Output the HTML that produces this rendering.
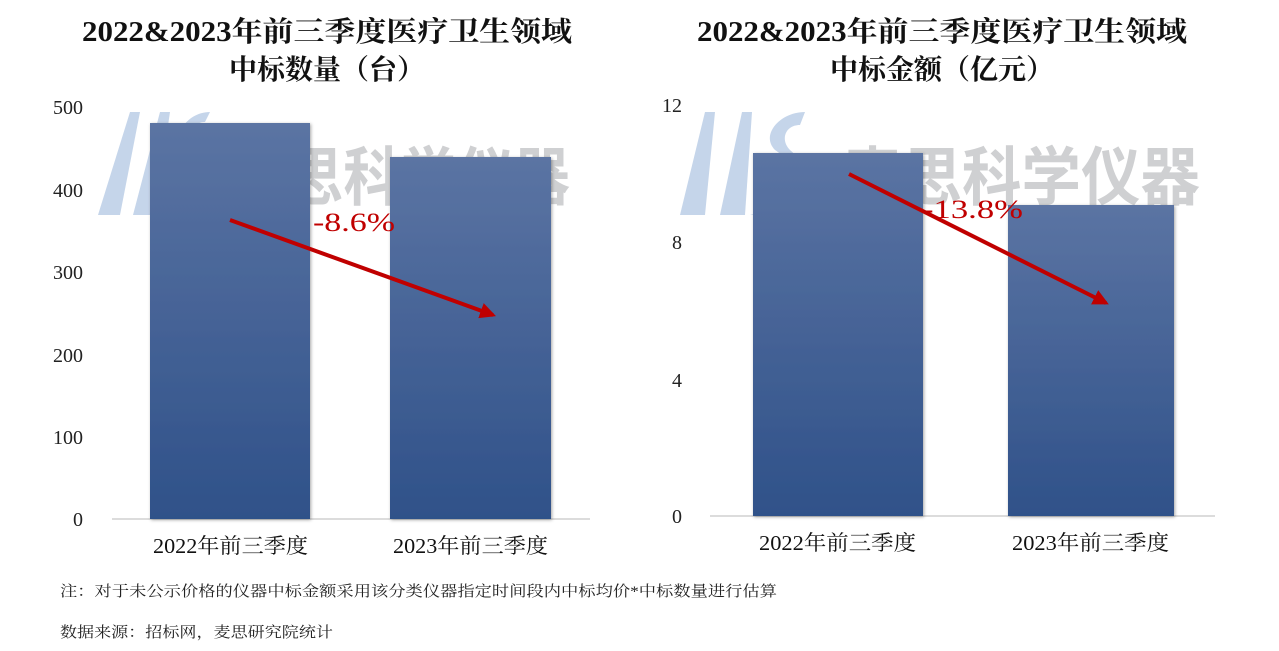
<!DOCTYPE html>
<html><head><meta charset="utf-8"><style>
html,body{margin:0;padding:0;background:#fff;width:1279px;height:651px;overflow:hidden}
svg text{font-family:"Liberation Serif","Noto Serif CJK SC",serif}
</style></head><body>
<svg width="1279" height="651" viewBox="0 0 1279 651" xmlns="http://www.w3.org/2000/svg">
<defs>
<linearGradient id="g" x1="0" y1="0" x2="0" y2="1"><stop offset="0" stop-color="#5b74a3"/><stop offset="1" stop-color="#2f5189"/></linearGradient>
<filter id="sh" x="-10%" y="-10%" width="120%" height="120%"><feDropShadow dx="1" dy="1" stdDeviation="1.5" flood-color="#000" flood-opacity="0.35"/></filter>
<marker id="ah" viewBox="0 0 10 10" refX="8" refY="5" markerWidth="4" markerHeight="4" orient="auto"><path d="M0,0 L10,5 L0,10 z" fill="#c00000"/></marker>
</defs>
<!-- titles -->
<text x="82" y="41" font-size="28" font-weight="bold" fill="#111" textLength="490" lengthAdjust="spacingAndGlyphs">2022&amp;2023年前三季度医疗卫生领域</text>
<text x="327" y="79" font-size="28" font-weight="bold" text-anchor="middle" fill="#111">中标数量（台）</text>
<text x="697" y="41" font-size="28" font-weight="bold" fill="#111" textLength="490" lengthAdjust="spacingAndGlyphs">2022&amp;2023年前三季度医疗卫生领域</text>
<text x="942" y="79" font-size="28" font-weight="bold" text-anchor="middle" fill="#111">中标金额（亿元）</text>
<!-- watermarks -->
<g fill="#c5d5ea">
<polygon points="98,215 120,215 140,112 130,112"/><polygon points="133,215 155,215 170,112 160,112"/>
<path d="M165,215 C200,215 200,170 180,155 C170,140 185,112 210,112 L205,122 C190,122 185,140 195,150 C210,170 200,205 175,205 Z"/>
<polygon points="680,215 705,215 715,112 705,112"/><polygon points="720,215 745,215 752,112 742,112"/>
<path d="M750,215 C800,215 800,165 775,150 C760,135 780,112 805,112 L800,125 C785,125 780,140 790,150 C815,170 805,210 770,210 Z"/>
</g>
<g fill="#cfd0d2" font-weight="bold">
<text x="230" y="200" font-size="64" style="font-family:'Noto Sans CJK SC',sans-serif" textLength="340" lengthAdjust="spacingAndGlyphs">麦思科学仪器</text>
<text x="843" y="200" font-size="64" style="font-family:'Noto Sans CJK SC',sans-serif" textLength="357" lengthAdjust="spacingAndGlyphs">麦思科学仪器</text>
</g>
<!-- left chart -->
<g font-size="20" fill="#222" text-anchor="end">
<text x="83" y="114">500</text><text x="83" y="197">400</text><text x="83" y="279">300</text><text x="83" y="362">200</text><text x="83" y="444">100</text><text x="83" y="526">0</text>
</g>
<line x1="112" y1="519" x2="590" y2="519" stroke="#d0d0d0" stroke-width="1.5"/>
<rect x="150" y="123" width="160" height="396" fill="url(#g)" filter="url(#sh)"/>
<rect x="390" y="157" width="161" height="362" fill="url(#g)" filter="url(#sh)"/>
<g font-size="21" fill="#111">
<text x="153" y="553" textLength="155" lengthAdjust="spacingAndGlyphs">2022年前三季度</text><text x="393" y="553" textLength="155" lengthAdjust="spacingAndGlyphs">2023年前三季度</text>
</g>
<line x1="230" y1="220" x2="493" y2="315" stroke="#c00000" stroke-width="4" marker-end="url(#ah)"/>
<text x="313" y="231" font-size="26" fill="#c00000" textLength="82" lengthAdjust="spacingAndGlyphs">-8.6%</text>
<!-- right chart -->
<g font-size="20" fill="#222" text-anchor="end">
<text x="682" y="112">12</text><text x="682" y="249">8</text><text x="682" y="387">4</text><text x="682" y="523">0</text>
</g>
<line x1="710" y1="516" x2="1215" y2="516" stroke="#d0d0d0" stroke-width="1.5"/>
<rect x="753" y="153" width="170" height="363" fill="url(#g)" filter="url(#sh)"/>
<rect x="1008" y="205" width="166" height="311" fill="url(#g)" filter="url(#sh)"/>
<g font-size="21" fill="#111">
<text x="759" y="550" textLength="157" lengthAdjust="spacingAndGlyphs">2022年前三季度</text><text x="1012" y="550" textLength="157" lengthAdjust="spacingAndGlyphs">2023年前三季度</text>
</g>
<line x1="849" y1="174" x2="1106" y2="303" stroke="#c00000" stroke-width="4" marker-end="url(#ah)"/>
<text x="922" y="218" font-size="26" fill="#c00000" textLength="101" lengthAdjust="spacingAndGlyphs">-13.8%</text>
<!-- notes -->
<text x="60" y="596" font-size="15" fill="#222" textLength="717" lengthAdjust="spacingAndGlyphs">注：对于未公示价格的仪器中标金额采用该分类仪器指定时间段内中标均价*中标数量进行估算</text>
<text x="60" y="637" font-size="15" fill="#222" textLength="273" lengthAdjust="spacingAndGlyphs">数据来源：招标网，麦思研究院统计</text>
</svg>
</body></html>
